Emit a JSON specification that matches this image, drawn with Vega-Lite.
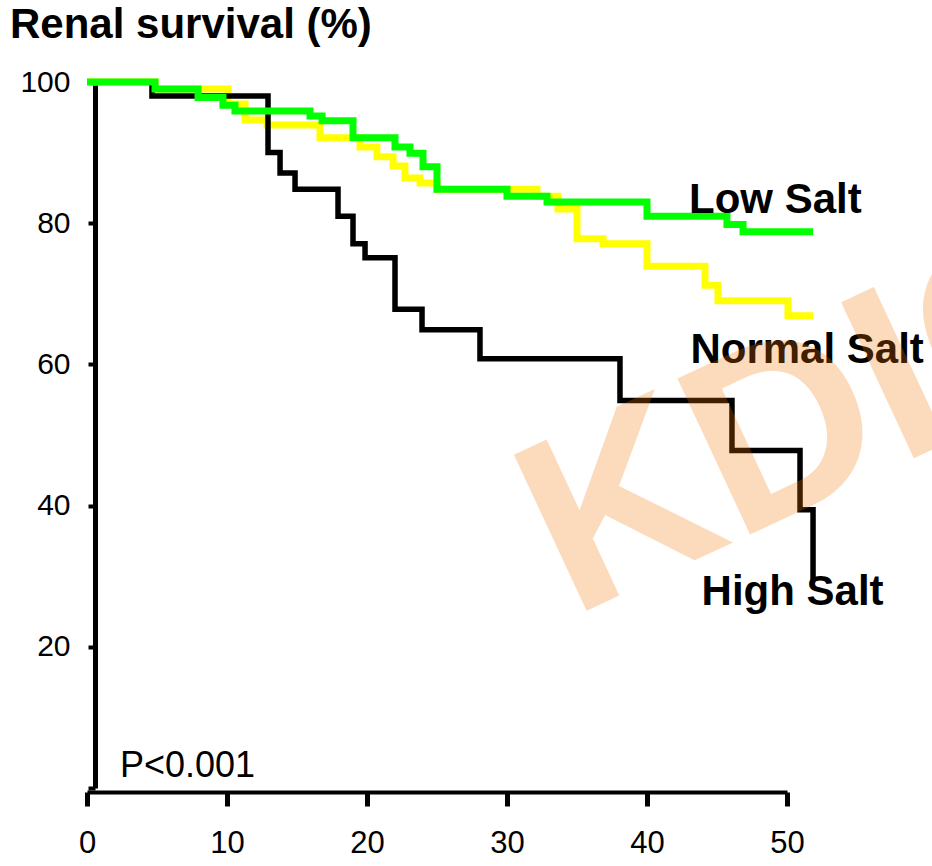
{
  "$schema": "https://vega.github.io/schema/vega-lite/v6.json",
  "autosize": {"type": "none"},
  "padding": {"left": 87, "top": 82, "right": 145, "bottom": 78},
  "width": 700,
  "height": 706,
  "background": "white",
  "config": {"view": {"stroke": null}, "font": "Liberation Sans"},
  "datasets": {
    "curves": [
      {"series": "Normal", "t": 0, "s": 100},
      {"series": "Normal", "t": 4.86, "s": 99.0},
      {"series": "Normal", "t": 10.07, "s": 96.9},
      {"series": "Normal", "t": 11.29, "s": 94.6},
      {"series": "Normal", "t": 12.86, "s": 93.9},
      {"series": "Normal", "t": 16.64, "s": 92.1},
      {"series": "Normal", "t": 19.5, "s": 90.8},
      {"series": "Normal", "t": 20.71, "s": 89.4},
      {"series": "Normal", "t": 21.86, "s": 88.1},
      {"series": "Normal", "t": 22.71, "s": 86.4},
      {"series": "Normal", "t": 23.79, "s": 85.7},
      {"series": "Normal", "t": 25.0, "s": 84.8},
      {"series": "Normal", "t": 32.14, "s": 83.8},
      {"series": "Normal", "t": 33.64, "s": 82.0},
      {"series": "Normal", "t": 35.0, "s": 77.8},
      {"series": "Normal", "t": 36.86, "s": 77.1},
      {"series": "Normal", "t": 40.0, "s": 73.9},
      {"series": "Normal", "t": 44.14, "s": 71.2},
      {"series": "Normal", "t": 45.07, "s": 69.0},
      {"series": "Normal", "t": 50.07, "s": 66.9},
      {"series": "Normal", "t": 51.86, "s": 66.9},
      {"series": "High", "t": 0, "s": 100},
      {"series": "High", "t": 4.64, "s": 98.0},
      {"series": "High", "t": 12.93, "s": 90.0},
      {"series": "High", "t": 13.79, "s": 87.1},
      {"series": "High", "t": 14.86, "s": 84.8},
      {"series": "High", "t": 17.93, "s": 81.0},
      {"series": "High", "t": 19.0, "s": 77.1},
      {"series": "High", "t": 19.86, "s": 75.1},
      {"series": "High", "t": 22.0, "s": 67.8},
      {"series": "High", "t": 23.93, "s": 64.9},
      {"series": "High", "t": 28.07, "s": 60.8},
      {"series": "High", "t": 38.07, "s": 54.9},
      {"series": "High", "t": 46.07, "s": 47.8},
      {"series": "High", "t": 50.93, "s": 39.4},
      {"series": "High", "t": 51.86, "s": 29.5},
      {"series": "Low", "t": 0, "s": 100},
      {"series": "Low", "t": 4.86, "s": 99.0},
      {"series": "Low", "t": 7.93, "s": 97.8},
      {"series": "Low", "t": 9.71, "s": 96.7},
      {"series": "Low", "t": 10.57, "s": 95.9},
      {"series": "Low", "t": 15.93, "s": 95.2},
      {"series": "Low", "t": 16.79, "s": 94.5},
      {"series": "Low", "t": 19.0, "s": 92.1},
      {"series": "Low", "t": 22.0, "s": 90.8},
      {"series": "Low", "t": 23.07, "s": 89.9},
      {"series": "Low", "t": 24.0, "s": 88.0},
      {"series": "Low", "t": 25.0, "s": 84.8},
      {"series": "Low", "t": 30.0, "s": 83.8},
      {"series": "Low", "t": 32.86, "s": 83.0},
      {"series": "Low", "t": 40.0, "s": 81.0},
      {"series": "Low", "t": 45.71, "s": 79.8},
      {"series": "Low", "t": 46.86, "s": 78.8},
      {"series": "Low", "t": 51.86, "s": 78.8}
    ],
    "labels": [
      {"label": "Low Salt", "t": 43.0, "s": 81.4},
      {"label": "Normal Salt", "t": 43.1, "s": 60.2},
      {"label": "High Salt", "t": 43.9, "s": 25.9}
    ],
    "heading": [
      {"label": "Renal survival (%)", "t": -5.5, "s": 106.2}
    ],
    "pvalue": [
      {"label": "P<0.001", "t": 2.35, "s": 1.56}
    ],
    "watermark": [
      {"label": "KDIGO", "t": 34.6, "s": 24.1}
    ]
  },
  "layer": [
    {
      "data": {"name": "curves"},
      "transform": [{"filter": "datum.series == 'Normal'"}],
      "mark": {"type": "line", "interpolate": "step-after", "color": "#ffff00", "strokeWidth": 7},
      "encoding": {
        "x": {
          "field": "t", "type": "quantitative",
          "scale": {"domain": [0, 50], "nice": false, "zero": false},
          "axis": {
            "values": [0, 10, 20, 30, 40, 50],
            "title": null, "grid": false, "offset": 4,
            "domainColor": "black", "domainWidth": 4,
            "tickColor": "black", "tickWidth": 5, "tickSize": 14,
            "labelFont": "Liberation Sans", "labelFontSize": 31, "labelColor": "black",
            "labelPadding": 22, "labelFlush": false, "labelOverlap": false
          }
        },
        "y": {
          "field": "s", "type": "quantitative",
          "scale": {"domain": [0, 100], "nice": false},
          "axis": {
            "values": [0, 20, 40, 60, 80, 100],
            "labelExpr": "datum.value == 0 ? '' : datum.label",
            "title": null, "grid": false, "offset": -8,
            "domainColor": "black", "domainWidth": 5,
            "tickColor": "black", "tickWidth": 4, "tickSize": 7,
            "labelFont": "Liberation Sans", "labelFontSize": 30, "labelColor": "black",
            "labelPadding": 18, "labelFlush": false, "labelOverlap": false
          }
        }
      }
    },
    {
      "data": {"name": "curves"},
      "transform": [{"filter": "datum.series == 'High'"}],
      "mark": {"type": "line", "interpolate": "step-after", "color": "#000000", "strokeWidth": 5.5},
      "encoding": {
        "x": {"field": "t", "type": "quantitative"},
        "y": {"field": "s", "type": "quantitative"}
      }
    },
    {
      "data": {"name": "curves"},
      "transform": [{"filter": "datum.series == 'Low'"}],
      "mark": {"type": "line", "interpolate": "step-after", "color": "#00ff00", "strokeWidth": 7},
      "encoding": {
        "x": {"field": "t", "type": "quantitative"},
        "y": {"field": "s", "type": "quantitative"}
      }
    },
    {
      "data": {"name": "labels"},
      "mark": {"type": "text", "align": "left", "baseline": "alphabetic", "font": "Liberation Sans", "fontSize": 42, "fontWeight": "bold", "color": "black"},
      "encoding": {
        "x": {"field": "t", "type": "quantitative"},
        "y": {"field": "s", "type": "quantitative"},
        "text": {"field": "label"}
      }
    },
    {
      "data": {"name": "heading"},
      "mark": {"type": "text", "align": "left", "baseline": "alphabetic", "font": "Liberation Sans", "fontSize": 42, "fontWeight": "bold", "color": "black"},
      "encoding": {
        "x": {"field": "t", "type": "quantitative"},
        "y": {"field": "s", "type": "quantitative"},
        "text": {"field": "label"}
      }
    },
    {
      "data": {"name": "pvalue"},
      "mark": {"type": "text", "align": "left", "baseline": "alphabetic", "font": "Liberation Sans", "fontSize": 36, "color": "black"},
      "encoding": {
        "x": {"field": "t", "type": "quantitative"},
        "y": {"field": "s", "type": "quantitative"},
        "text": {"field": "label"}
      }
    },
    {
      "data": {"name": "watermark"},
      "mark": {"type": "text", "align": "left", "baseline": "alphabetic", "font": "Liberation Sans", "fontSize": 250, "fontWeight": "bold", "angle": -25, "color": "rgb(246,115,0)", "opacity": 0.26},
      "encoding": {
        "x": {"field": "t", "type": "quantitative"},
        "y": {"field": "s", "type": "quantitative"},
        "text": {"field": "label"}
      }
    }
  ]
}
